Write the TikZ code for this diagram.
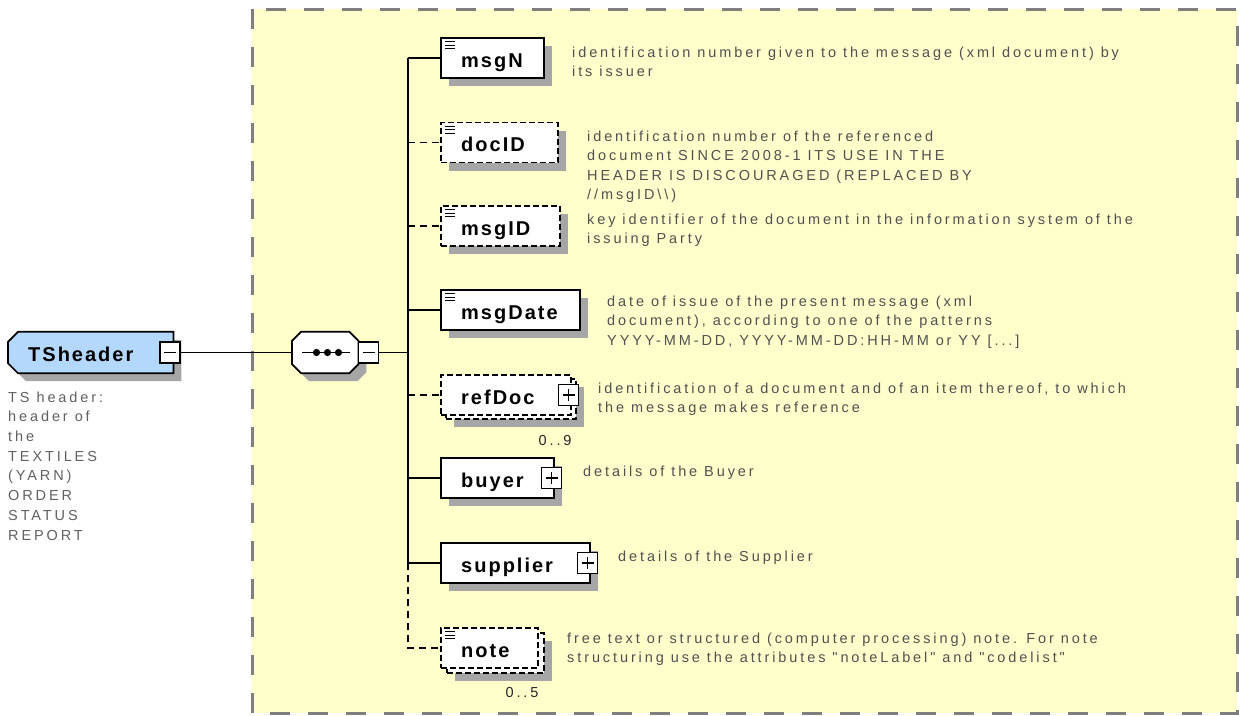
\documentclass[tikz,border=0pt]{standalone}
\usepackage{fontspec}
\setmainfont{Liberation Sans}
\newfontfamily\descfont[LetterSpace=20]{Liberation Sans}
\newfontfamily\lblfont[LetterSpace=10]{Liberation Sans}
\usetikzlibrary{shadows,calc}
\definecolor{bgyellow}{HTML}{FFFFCC}
\definecolor{frameg}{HTML}{7F7F7F}
\definecolor{shadowg}{HTML}{A6A6A6}
\definecolor{tsblue}{HTML}{B4D8FC}
\definecolor{desccol}{HTML}{505050}
\newcommand\tspath[2]{($(#1.north west)+(10+#2,#2)$) -- ($(#1.north east)+(#2,#2)$) -- ($(#1.south east)+(#2,#2)$) -- ($(#1.south west)+(10+#2,#2)$) -- ($(#1.south west)+(#2,-10+#2)$) -- ($(#1.north west)+(#2,10+#2)$) -- cycle}
\newcommand\octpath[2]{($(#1.north west)+(9+#2,#2)$) -- ($(#1.north east)+(-9+#2,#2)$) -- ($(#1.north east)+(#2,9+#2)$) -- ($(#1.south east)+(#2,-9+#2)$) -- ($(#1.south east)+(-9+#2,#2)$) -- ($(#1.south west)+(9+#2,#2)$) -- ($(#1.south west)+(#2,-9+#2)$) -- ($(#1.north west)+(#2,9+#2)$) -- cycle}
\newcommand\elemnode[5]{\node[#5, minimum width=#3pt] (#1) at (440,#2) {};
  \node[lbl] (#1-l) at ($(#1.west)+(21,9)$) {#4};}
\newcommand\iconmark[1]{\foreach \d in {4.5,8,11.5}{\draw[iconline] ($(#1.north west)+(5,\d)$) -- ++(10,0);}}
\newcommand\plusmark[1]{\node[pmbox] (#1-p) at ($(#1.east)+(-3,0)$) {};
  \draw[sign] ($(#1-p.center)+(-6,0)$) -- ($(#1-p.center)+(6,0)$);
  \draw[sign] ($(#1-p.center)+(0,-6)$) -- ($(#1-p.center)+(0,6)$);}
\begin{document}
\begin{tikzpicture}[x=1pt,y=-1pt,
  yframe/.style={draw=frameg, line width=3pt, dash pattern=on 20pt off 18pt, fill=bgyellow},
  conn/.style={line width=1.8pt, draw=black},
  optconn/.style={conn, dash pattern=on 7pt off 5pt},
  anchorbox/.style={draw=none, inner sep=0pt, anchor=west, minimum height=41pt},
  elembase/.style={draw=black, line width=1.7pt, fill=white, minimum height=40pt, inner sep=0pt, anchor=west},
  elem/.style={elembase, drop shadow={shadow xshift=8pt, shadow yshift=-8pt, fill=shadowg, opacity=1}},
  optional/.style={dash pattern=on 6pt off 3pt},
  lbl/.style={font=\lblfont\bfseries\fontsize{20pt}{24pt}\selectfont, inner sep=0pt, anchor=base west, text=black},
  desc/.style={font=\descfont\fontsize{14.5pt}{19.5pt}\selectfont, text=desccol, align=left, inner sep=0pt, anchor=base west},
  tsdesc/.style={desc, font=\descfont\fontsize{14.5pt}{19.7pt}\selectfont, text=desccol!90},
  pmbox/.style={draw=black, line width=1.4pt, fill=white, minimum width=20pt, minimum height=21pt, inner sep=0pt},
  sign/.style={line width=1.4pt},
  iconline/.style={line width=1.2pt},
  mult/.style={font=\descfont\fontsize{14.5pt}{16pt}\selectfont, text=black!85, inner sep=0pt, anchor=base east}
]
\useasboundingbox (0,0) rectangle (1239,715);
\fill[white] (0,0) rectangle (1239,715);
\draw[yframe] (252,9) rectangle (1237,713);

% root element
\node[anchorbox, minimum width=165pt] (ts) at (8,352.5) {};
\fill[shadowg] \tspath{ts}{8};
\filldraw[fill=tsblue, draw=black, line width=1.7pt] \tspath{ts}{0};
\node[lbl] (ts-l) at ($(ts.west)+(20,9)$) {TSheader};
\node[pmbox] (ts-m) at (170,352.5) {};
\draw[sign] ($(ts-m.center)+(-6,0)$) -- ($(ts-m.center)+(6,0)$);
% multi-line texts: anchor at the baseline of the last line
\node[tsdesc] (ts-d) at (8,540) {TS header:\\header of\\the\\TEXTILES\\(YARN)\\ORDER\\STATUS\\REPORT};

% sequence compositor
\node[anchorbox, minimum width=66pt] (seq) at (292,352.5) {};
\fill[shadowg] \octpath{seq}{8};
\filldraw[fill=white, draw=black, line width=1.7pt] \octpath{seq}{0};
\draw[conn] ($(seq.west)+(10,0)$) -- ($(seq.east)+(-8,0)$);
\foreach \dx in {24.5,35.5,46.5}{\fill ($(seq.west)+(\dx,0)$) circle (3.6pt);}
\node[pmbox] (seq-m) at (368.5,352.5) {};
\draw[sign] ($(seq-m.center)+(-6,0)$) -- ($(seq-m.center)+(6,0)$);
\coordinate (trunk) at (408,352.5);

% children
\elemnode{msgN}{58}{103}{msgN}{elem}
\iconmark{msgN}
\elemnode{docID}{142.5}{117}{docID}{elem,optional}
\iconmark{docID}
\elemnode{msgID}{226}{119}{msgID}{elem,optional}
\iconmark{msgID}
\elemnode{msgDate}{310}{139}{msgDate}{elem}
\iconmark{msgDate}

\node[elem, optional, minimum width=130pt] (refDoc-b) at (445,399) {};
\elemnode{refDoc}{395}{130}{refDoc}{elembase,optional}
\plusmark{refDoc}
\node[mult] (refDoc-n) at ($(refDoc.south east)+(0,30)$) {0..9};

\elemnode{buyer}{478}{113}{buyer}{elem}
\plusmark{buyer}
\elemnode{supplier}{563}{149}{supplier}{elem}
\plusmark{supplier}

\node[elem, optional, minimum width=97pt] (note-b) at (446,653) {};
\elemnode{note}{648}{97}{note}{elembase,optional}
\iconmark{note}
\node[mult] (note-n) at ($(note.south east)+(0,29)$) {0..5};

% connectors
\draw[conn] (ts-m.east) -- (seq.west);
\draw[conn] (seq-m.east) -- (trunk);
\draw[conn] (trunk |- msgN.west) -- (trunk |- supplier.west);
\draw[optconn] (trunk |- supplier.west) -- (trunk |- note.west) -- (note.west);
\draw[conn] (trunk |- msgN.west) -- (msgN.west);
\draw[optconn] (trunk |- docID.west) -- (docID.west);
\draw[optconn] (trunk |- msgID.west) -- (msgID.west);
\draw[conn] (trunk |- msgDate.west) -- (msgDate.west);
\draw[optconn] (trunk |- refDoc.west) -- (refDoc.west);
\draw[conn] (trunk |- buyer.west) -- (buyer.west);
\draw[conn] (trunk |- supplier.west) -- (supplier.west);

% descriptions
\node[desc] (msgN-d) at (572,76.5) {identification number given to the message (xml document) by\\its issuer};
\node[desc] (docID-d) at (587,199.5) {identification number of the referenced\\document SINCE 2008-1 ITS USE IN THE\\HEADER IS DISCOURAGED (REPLACED BY\\//msgID\textbackslash\textbackslash)};
\node[desc] (msgID-d) at (587,243.5) {key identifier of the document in the information system of the\\issuing Party};
\node[desc] (msgDate-d) at (607,345) {date of issue of the present message (xml\\document), according to one of the patterns\\YYYY-MM-DD, YYYY-MM-DD:HH-MM or YY [...]};
\node[desc] (refDoc-d) at (598,412.5) {identification of a document and of an item thereof, to which\\the message makes reference};
\node[desc] (buyer-d) at (583,476) {details of the Buyer};
\node[desc] (supplier-d) at (618,561) {details of the Supplier};
\node[desc] (note-d) at (567,662.5) {free text or structured (computer processing) note. For note\\structuring use the attributes "noteLabel" and "codelist"};
\end{tikzpicture}
\end{document}
